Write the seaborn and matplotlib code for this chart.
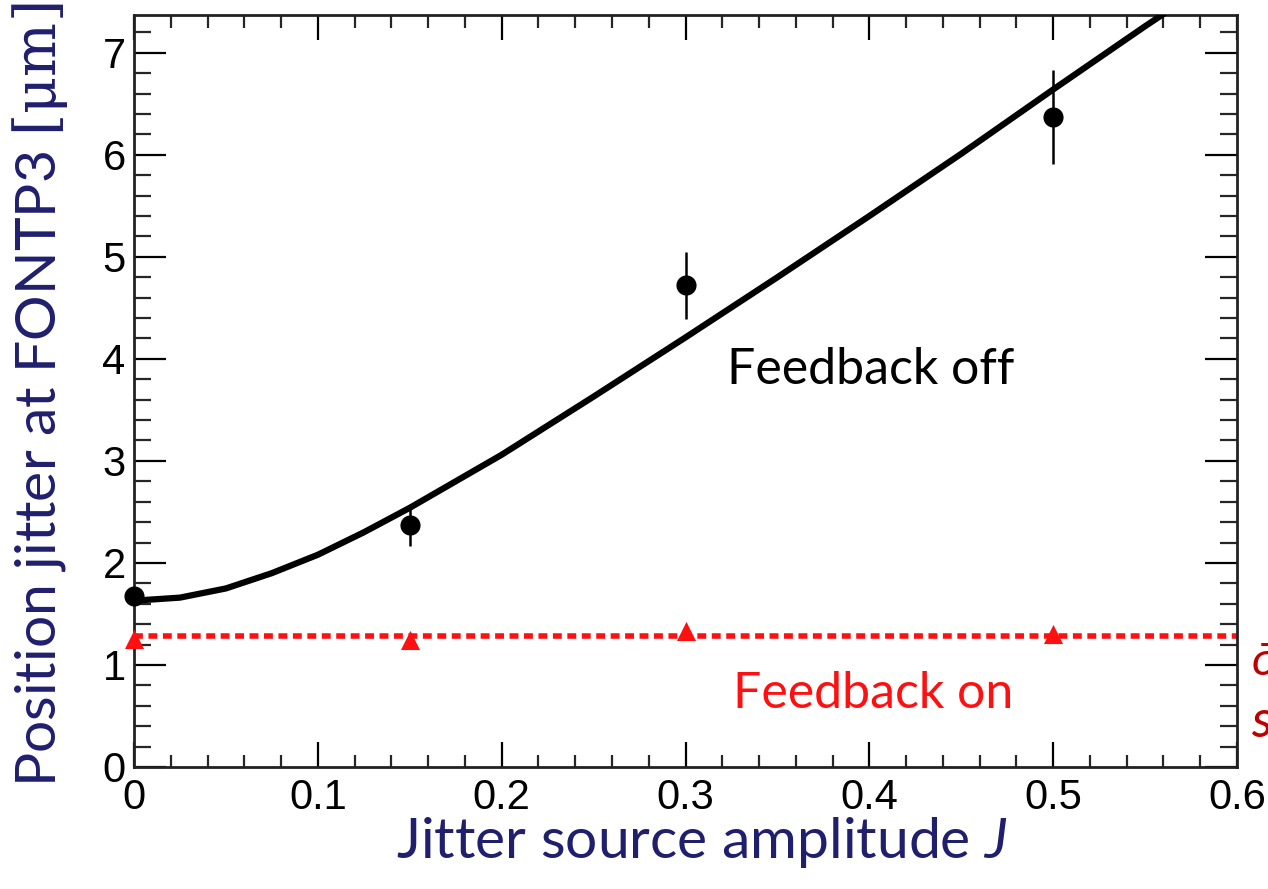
import matplotlib
matplotlib.use("Agg")
import matplotlib.pyplot as plt
import seaborn as sns
import pandas as pd
from matplotlib.ticker import MultipleLocator

# ---- data ----
J_points = [0.0, 0.15, 0.30, 0.50]
off_vals = [1.68, 2.37, 4.72, 6.37]
off_err = [0.05, 0.20, 0.33, 0.46]
on_vals = [1.25, 1.24, 1.33, 1.30]
on_err = [0.03, 0.03, 0.04, 0.04]
on_level = 1.285

curve_J = [0.0, 0.025, 0.05, 0.075, 0.10, 0.125, 0.15, 0.175, 0.20, 0.25,
           0.30, 0.35, 0.40, 0.45, 0.50, 0.55, 0.57]
curve_v = [1.63, 1.66, 1.75, 1.90, 2.08, 2.30, 2.54, 2.80, 3.06, 3.63,
           4.21, 4.80, 5.40, 6.01, 6.64, 7.26, 7.50]

x_ticks = [0, 0.1, 0.2, 0.3, 0.4, 0.5, 0.6]
x_tick_labels = ["0", "0.1", "0.2", "0.3", "0.4", "0.5", "0.6"]
y_ticks = [0, 1, 2, 3, 4, 5, 6, 7]
y_tick_labels = ["0", "1", "2", "3", "4", "5", "6", "7"]

sns.set_style("white")
plt.rcParams["font.family"] = ["Liberation Sans", "DejaVu Sans"]
plt.rcParams["mathtext.fontset"] = "custom"
plt.rcParams["mathtext.it"] = "Lato:italic"
plt.rcParams["mathtext.rm"] = "DejaVu Serif"

fig = plt.figure(figsize=(12.68, 8.89), dpi=100)
ax = fig.add_axes([134 / 1268, 1 - 767 / 889, (1237 - 134) / 1268, (767 - 15) / 889])

curve_df = pd.DataFrame({"J": curve_J, "v": curve_v})
sns.lineplot(data=curve_df, x="J", y="v", ax=ax, color="black", lw=4.5,
             estimator=None, sort=True, zorder=3)

ax.axhline(on_level, color="#ff1010", lw=4, linestyle=(0, (1.6, 1.0)), zorder=2)

ax.errorbar(J_points, off_vals, yerr=off_err, fmt="none", ecolor="black",
            elinewidth=1.8, capsize=0, zorder=4)
ax.errorbar(J_points, on_vals, yerr=on_err, fmt="none", ecolor="#555555",
            elinewidth=1.5, capsize=0, zorder=4)

pts = pd.DataFrame({"J": J_points, "off": off_vals, "on": on_vals})
sns.scatterplot(data=pts, x="J", y="off", ax=ax, color="black", s=210,
                marker="o", edgecolor="black", linewidth=0, zorder=5, clip_on=False)
sns.scatterplot(data=pts, x="J", y="on", ax=ax, color="#ff1010", s=190,
                marker="^", edgecolor="#ff1010", linewidth=0, zorder=5, clip_on=False)

ax.set_xlim(0, 0.6)
ax.set_ylim(0, 7.37)
ax.set_xticks(x_ticks)
ax.set_xticklabels(x_tick_labels)
ax.set_yticks(y_ticks)
ax.set_yticklabels(y_tick_labels)
ax.xaxis.set_minor_locator(MultipleLocator(0.02))
ax.yaxis.set_minor_locator(MultipleLocator(0.2))

ax.tick_params(axis="x", which="major", direction="in", length=18, width=1.6,
               top=True, bottom=True, labelsize=30, pad=8, colors="black")
ax.tick_params(axis="x", which="minor", direction="in", length=9, width=1.6,
               top=True, bottom=True)
ax.tick_params(axis="y", which="major", direction="in", length=23, width=1.6,
               left=True, right=True, labelsize=30, pad=6, colors="black")
ax.tick_params(axis="y", which="minor", direction="in", length=12, width=1.6,
               left=True, right=True)

for sp in ax.spines.values():
    sp.set_linewidth(2)
    sp.set_color("#222222")
    sp.set_visible(True)

navy = "#1f1f6e"
ax.set_xlabel("")
ax.set_ylabel("")
fig.text(702 / 1268, 1 - 842 / 889, r"Jitter source amplitude $\mathit{J}$",
         ha="center", va="center", fontsize=41, color=navy,
         family=["Lato", "DejaVu Sans"])
fig.text(40 / 1268, 1 - 395 / 889, r"Position jitter at FONTP3 $\mathrm{[μm]}$",
         ha="center", va="center", rotation=90, fontsize=41, color=navy,
         family=["Lato", "DejaVu Sans"])

ax.text(0.401, 3.89, "Feedback off", ha="center", va="center", fontsize=36,
        color="black", family=["Lato", "DejaVu Sans"])
ax.text(0.402, 0.72, "Feedback on", ha="center", va="center", fontsize=36,
        color="#ff1010", family=["Lato", "DejaVu Sans"])

dark_red = "#c00000"
fig.text(1251 / 1268, 1 - 664 / 889, r"$\bar{\sigma}$", ha="left", va="center",
         fontsize=34, color=dark_red, family=["DejaVu Sans"])
fig.text(1251 / 1268, 1 - 722 / 889, "s", ha="left", va="center",
         fontsize=38, color=dark_red, style="italic", family=["Lato", "DejaVu Sans"])

fig.savefig("out.png", dpi=100)
